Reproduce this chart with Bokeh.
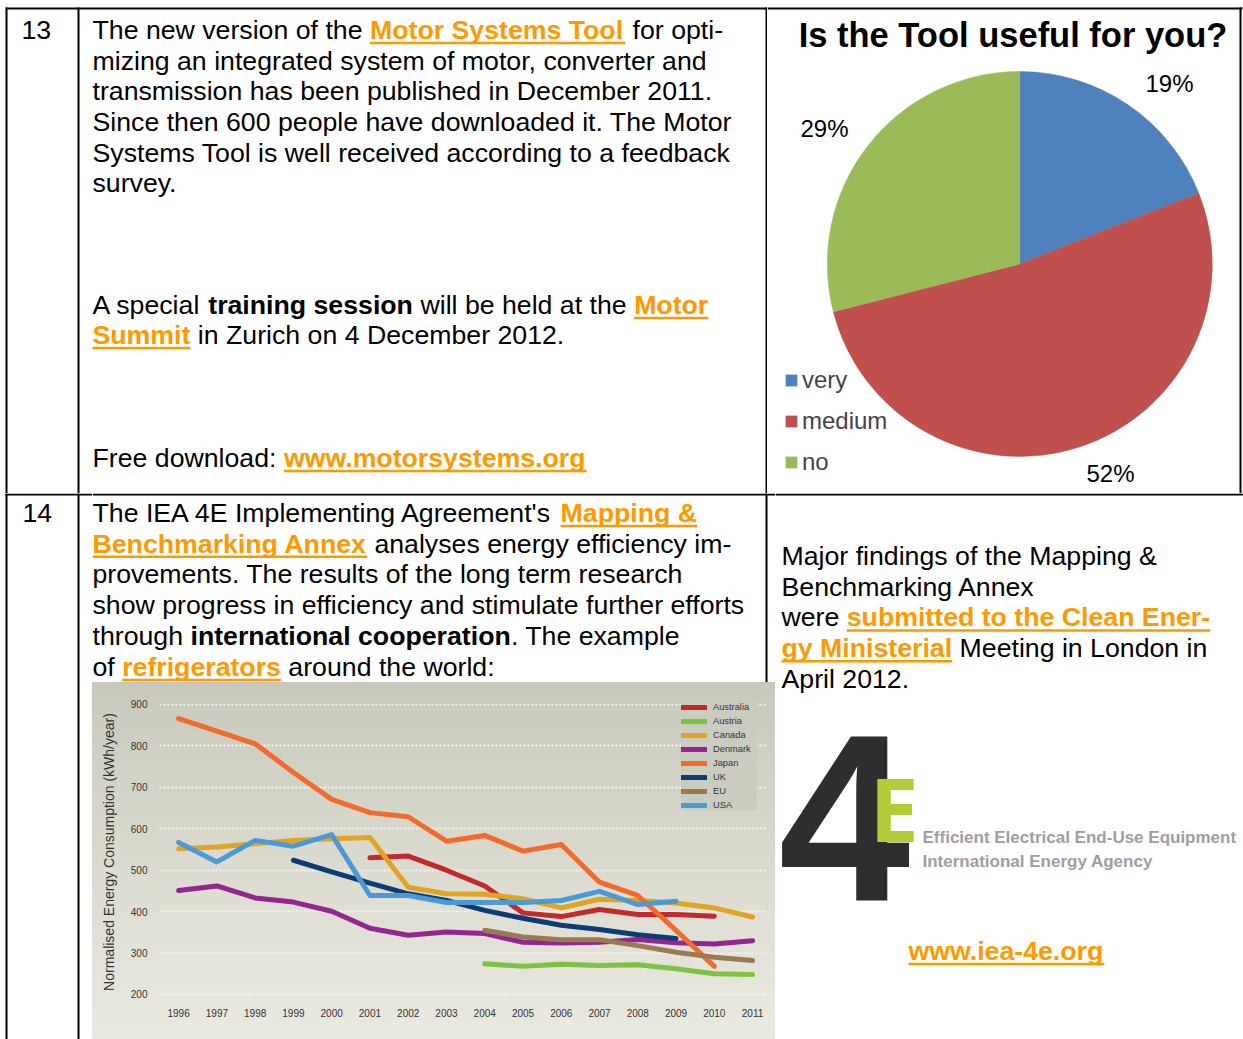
import math
from bokeh.plotting import figure
from bokeh.models import Range1d, FixedTicker, ColumnDataSource
from bokeh.layouts import row, column
from bokeh.embed import file_html
from bokeh.resources import INLINE
from bokeh.core.properties import value

# ---------------- data ----------------
pie_labels = ["very", "medium", "no"]
pie_values = [19, 52, 29]
pie_colors = ["#4F81BD", "#C0504D", "#9BBB59"]

tick_years = list(range(1996, 2012))
tick_values = [200, 300, 400, 500, 600, 700, 800, 900]

countries = ["Australia", "Austria", "Canada", "Denmark", "Japan", "UK", "EU", "USA"]
country_colors = ["#C4292B", "#7EC242", "#E1A322", "#93278F", "#F26A2C", "#0D3B73", "#9A7A52", "#4A9AD8"]

australia_years = list(range(2001, 2011))
australia_vals = [530, 534, 500, 462, 397, 388, 405, 393, 393, 389]
austria_years = list(range(2004, 2012))
austria_vals = [274, 268, 273, 270, 272, 262, 250, 248]
canada_years = list(range(1996, 2012))
canada_vals = [552, 556, 564, 572, 576, 579, 459, 443, 442, 431, 409, 430, 427, 421, 409, 387]
denmark_years = list(range(1996, 2012))
denmark_vals = [451, 462, 433, 423, 401, 360, 343, 351, 347, 326, 324, 326, 333, 325, 322, 330]
japan_years = list(range(1996, 2011))
japan_vals = [866, 836, 805, 736, 671, 639, 629, 570, 584, 546, 562, 471, 439, 355, 268]
uk_years = list(range(1999, 2010))
uk_vals = [524, 496, 469, 443, 427, 403, 384, 367, 357, 344, 335]
eu_years = list(range(2004, 2012))
eu_vals = [355, 339, 332, 332, 318, 302, 290, 282]
usa_years = list(range(1996, 2010))
usa_vals = [567, 520, 572, 558, 586, 439, 439, 422, 422, 422, 427, 449, 417, 425]

series_years = [australia_years, austria_years, canada_years, denmark_years,
                japan_years, uk_years, eu_years, usa_years]
series_vals = [australia_vals, austria_vals, canada_vals, denmark_vals,
               japan_vals, uk_vals, eu_vals, usa_vals]

# ---------------- texts ----------------
row1_left = [
    [("The new version of the ", "n"), ("Motor Systems Tool", "link"), (" for opti-", "n")],
    "mizing an integrated system of motor, converter and",
    "transmission has been published in December 2011.",
    "Since then 600 people have downloaded it. The Motor",
    "Systems Tool is well received according to a feedback",
    "survey.",
    [("A special ", "n"), ("training session", "b"), (" will be held at the ", "n"), ("Motor", "link")],
    [("Summit", "link"), (" in Zurich on 4 December 2012.", "n")],
    [("Free download: ", "n"), ("www.motorsystems.org", "link")],
]
row2_left = [
    [("The IEA 4E Implementing Agreement's ", "n"), ("Mapping &", "link")],
    [("Benchmarking Annex", "link"), (" analyses energy efficiency im-", "n")],
    "provements. The results of the long term research",
    "show progress in efficiency and stimulate further efforts",
    [("through ", "n"), ("international cooperation", "b"), (". The example", "n")],
    [("of ", "n"), ("refrigerators", "link"), (" around the world:", "n")],
]
row2_right = [
    "Major findings of the Mapping &",
    "Benchmarking Annex",
    [("were ", "n"), ("submitted to the Clean Ener-", "link")],
    [("gy Ministerial", "link"), (" Meeting in London in", "n")],
    "April 2012.",
]

FONT = "Liberation Sans"
FS = 26.7
ORANGE = "#FF9900"
BASE_SHIFT = 0.36   # em offset between requested and drawn baseline
UL = 3.5            # underline distance below baseline

REG = {' ': 278, '!': 278, '&': 667, "'": 191, '(': 333, ')': 333, ',': 278, '-': 333, '.': 278,
       '/': 278, ':': 278, '?': 556, '%': 889,
       'A': 667, 'B': 667, 'C': 722, 'D': 722, 'E': 667, 'F': 611, 'G': 778, 'H': 722, 'I': 278,
       'J': 500, 'K': 667, 'L': 556, 'M': 833, 'N': 722, 'O': 778, 'P': 667, 'Q': 778, 'R': 722,
       'S': 667, 'T': 611, 'U': 722, 'V': 667, 'W': 944, 'X': 667, 'Y': 667, 'Z': 611,
       'a': 556, 'b': 556, 'c': 500, 'd': 556, 'e': 556, 'f': 278, 'g': 556, 'h': 556, 'i': 222,
       'j': 222, 'k': 500, 'l': 222, 'm': 833, 'n': 556, 'o': 556, 'p': 556, 'q': 556, 'r': 333,
       's': 500, 't': 278, 'u': 556, 'v': 500, 'w': 722, 'x': 500, 'y': 500, 'z': 500}
BOLD = {' ': 278, '!': 333, '&': 722, "'": 238, '(': 333, ')': 333, ',': 278, '-': 333, '.': 278,
        '/': 278, ':': 333, '?': 611, '%': 889,
        'A': 722, 'B': 722, 'C': 722, 'D': 722, 'E': 667, 'F': 611, 'G': 778, 'H': 722, 'I': 278,
        'J': 556, 'K': 722, 'L': 611, 'M': 833, 'N': 722, 'O': 778, 'P': 667, 'Q': 778, 'R': 722,
        'S': 667, 'T': 611, 'U': 722, 'V': 667, 'W': 944, 'X': 667, 'Y': 667, 'Z': 611,
        'a': 556, 'b': 611, 'c': 556, 'd': 611, 'e': 556, 'f': 333, 'g': 611, 'h': 611, 'i': 278,
        'j': 278, 'k': 556, 'l': 278, 'm': 889, 'n': 611, 'o': 611, 'p': 611, 'q': 611, 'r': 389,
        's': 556, 't': 333, 'u': 611, 'v': 556, 'w': 778, 'x': 556, 'y': 556, 'z': 500}


def text_width(s, bold, size):
    t = BOLD if bold else REG
    return sum(t.get(c, 556) for c in s) * size / 1000.0


def panel(w, h, x0, y0):
    p = figure(width=w, height=h, x_range=Range1d(x0, x0 + w), y_range=Range1d(-(y0 + h), -y0),
               x_axis_location=None, y_axis_location=None, toolbar_location=None, title=None,
               output_backend="svg", min_border=0, outline_line_color=None,
               background_fill_color="white", border_fill_color="white")
    p.grid.visible = False
    return p


def rules(p, segs):
    p.segment(x0=[s[0] for s in segs], y0=[-s[1] for s in segs],
              x1=[s[2] for s in segs], y1=[-s[3] for s in segs],
              line_color="black", line_width=2)


def draw_lines(p, x0, lines, baselines, size=FS):
    groups = {"n": ([], [], []), "b": ([], [], []), "link": ([], [], [])}
    ux0, ux1, uy = [], [], []
    for runs, b in zip(lines, baselines):
        if isinstance(runs, str):
            runs = [(runs, "n")]
        x = x0
        for txt, st in runs:
            bold = st != "n"
            core = txt.lstrip(" ")
            xs = x + text_width(txt[:len(txt) - len(core)], bold, size)
            g = groups[st]
            g[0].append(xs); g[1].append(-(b - BASE_SHIFT * size)); g[2].append(core)
            if st == "link":
                ux0.append(xs)
                ux1.append(xs + text_width(core.rstrip(), True, size))
                uy.append(-(b + UL))
            x += text_width(txt, bold, size)
    for st, (xs, ys, ts) in groups.items():
        if not ts:
            continue
        p.text(x=xs, y=ys, text=ts, text_font=value(FONT), text_font_size=f"{size}px",
               text_font_style="normal" if st == "n" else "bold",
               text_color=ORANGE if st == "link" else "black",
               text_baseline="alphabetic", text_align="left")
    if ux0:
        p.segment(x0=ux0, y0=uy, x1=ux1, y1=uy, line_color=ORANGE, line_width=2.5)


def add_text(p, x, y, s, size, color="black", style="normal", align="left", font=FONT):
    p.text(x=[x], y=[-(y - BASE_SHIFT * size)], text=[s], text_font=value(font),
           text_font_size=f"{size}px", text_font_style=style, text_color=color,
           text_baseline="alphabetic", text_align=align)


# ---------------- figure A: row 1 left ----------------
pA = panel(767, 493, 0, 0)
rules(pA, [(5, 8, 767, 8), (6, 7, 6, 493), (78, 7, 78, 493), (766, 7, 766, 493)])
add_text(pA, 21, 39, "13", FS)
b1 = [39 + 30.7 * i for i in range(6)] + [314, 344, 467]
draw_lines(pA, 92, row1_left, b1)

# ---------------- figure B: pie ----------------
pB = panel(476, 493, 767, 0)
rules(pB, [(767, 8, 1242, 8), (1240, 7, 1240, 493)])
add_text(pB, 1012.5, 46.5, "Is the Tool useful for you?", 34.5, style="bold", align="center")
total = float(sum(pie_values))
starts, ends, c = [], [], 0.0
for v in pie_values:
    starts.append(math.pi / 2 - 2 * math.pi * c / total)
    c += v
    ends.append(math.pi / 2 - 2 * math.pi * c / total)
pie_src = ColumnDataSource(dict(start=starts, end=ends, color=pie_colors, label=pie_labels))
pB.wedge(x=1019.3, y=-263.5, radius=192.5, start_angle="start", end_angle="end",
         direction="clock", fill_color="color", line_color="color", line_width=0.5,
         legend_field="label", source=pie_src)
pct = [f"{v}%" for v in pie_values]
pct_pos = [(1145, 92), (1086, 482), (800, 137)]
for s, (x, y) in zip(pct, pct_pos):
    add_text(pB, x, y, s, 24)
lg = pB.legend[0]
lg.location = (17, 17)
lg.label_text_font = FONT
lg.label_text_font_size = "24px"
lg.glyph_width = 14
lg.glyph_height = 14
lg.label_height = 29
lg.spacing = 12
lg.padding = 0
lg.margin = 0
lg.label_standoff = 4
lg.border_line_color = None
lg.background_fill_alpha = 0

# ---------------- figure L: row 2 number column ----------------
pL = panel(92, 546, 0, 493)
rules(pL, [(5, 494, 92, 494), (6, 493, 6, 1039), (78, 493, 78, 1039)])
add_text(pL, 22, 522, "14", FS)

# ---------------- figure C: row 2 text above chart ----------------
pC = panel(683, 189, 92, 493)
rules(pC, [(92, 494, 775, 494), (766, 493, 766, 682)])
b2 = [522 + 30.8 * i for i in range(6)]
draw_lines(pC, 92, row2_left, b2)

# ---------------- figure E: line chart ----------------
pE = figure(width=683, height=357, x_range=Range1d(1995.5, 2011.39), y_range=Range1d(185.5, 902.4),
            toolbar_location=None, output_backend="svg", title=None,
            min_border_left=67, min_border_right=8, min_border_top=21, min_border_bottom=39,
            outline_line_color=None, background_fill_alpha=0, border_fill_alpha=0)
pE.styles = {"background": "linear-gradient(180deg, #C8C9BC 0%, #DADACF 50%, #E9E9E0 100%)"}
for name, col, yrs, vals in zip(countries, country_colors, series_years, series_vals):
    pE.line(yrs, vals, line_color=col, line_width=5, line_cap="round", line_join="round",
            legend_label=name)
pE.xgrid.visible = False
pE.ygrid.grid_line_color = "#F6F6F0"
pE.ygrid.grid_line_width = 2
pE.ygrid.grid_line_dash = "2 2"
pE.xaxis.ticker = FixedTicker(ticks=tick_years)
pE.yaxis.ticker = FixedTicker(ticks=tick_values)
for ax in (pE.xaxis, pE.yaxis):
    ax.axis_line_color = None
    ax.major_tick_line_color = None
    ax.minor_tick_line_color = None
    ax.major_label_text_font = FONT
    ax.major_label_text_font_size = "10px"
    ax.major_label_text_color = "#333333"
pE.xaxis.major_label_standoff = 2
pE.yaxis.major_label_standoff = 6
pE.yaxis.axis_label = "Normalised Energy Consumption (kWh/year)"
pE.yaxis.axis_label_text_font = FONT
pE.yaxis.axis_label_text_font_size = "14px"
pE.yaxis.axis_label_text_font_style = "normal"
pE.yaxis.axis_label_text_color = "#333333"
pE.yaxis.axis_label_standoff = 11
le = pE.legend[0]
le.location = (522, 190)
le.label_text_font = FONT
le.label_text_font_size = "9.3px"
le.label_text_color = "#333333"
le.glyph_width = 26
le.glyph_height = 10
le.label_height = 10
le.label_width = 44
le.spacing = 4
le.padding = 10
le.margin = 0
le.label_standoff = 6
le.border_line_color = None
le.background_fill_color = "#CBCCC0"
le.background_fill_alpha = 1

# ---------------- figure F: row 2 right ----------------
pF = panel(468, 546, 775, 493)
rules(pF, [(775, 494, 1243, 494)])
b3 = [565 + 30.75 * i for i in range(5)]
draw_lines(pF, 781, row2_right, b3)
add_text(pF, 778, 903, "4", 237, color="#2E2E2E", style="bold")
add_text(pF, 869, 839, "E", 88, color="#B4CB38", style="bold", font="Noto Sans")
add_text(pF, 922, 843, "Efficient Electrical End-Use Equipment", 17, color="#9E9E9E", style="bold")
add_text(pF, 922, 867, "International Energy Agency", 17, color="#9E9E9E", style="bold")
draw_lines(pF, 908, [[("www.iea-4e.org", "link")]], [960])

layout = column(
    row(pA, pB, spacing=0),
    row(pL, column(pC, row(pE, spacing=0), spacing=0), pF, spacing=0),
    spacing=0,
)

open("out.html", "w").write(file_html(layout, INLINE))
